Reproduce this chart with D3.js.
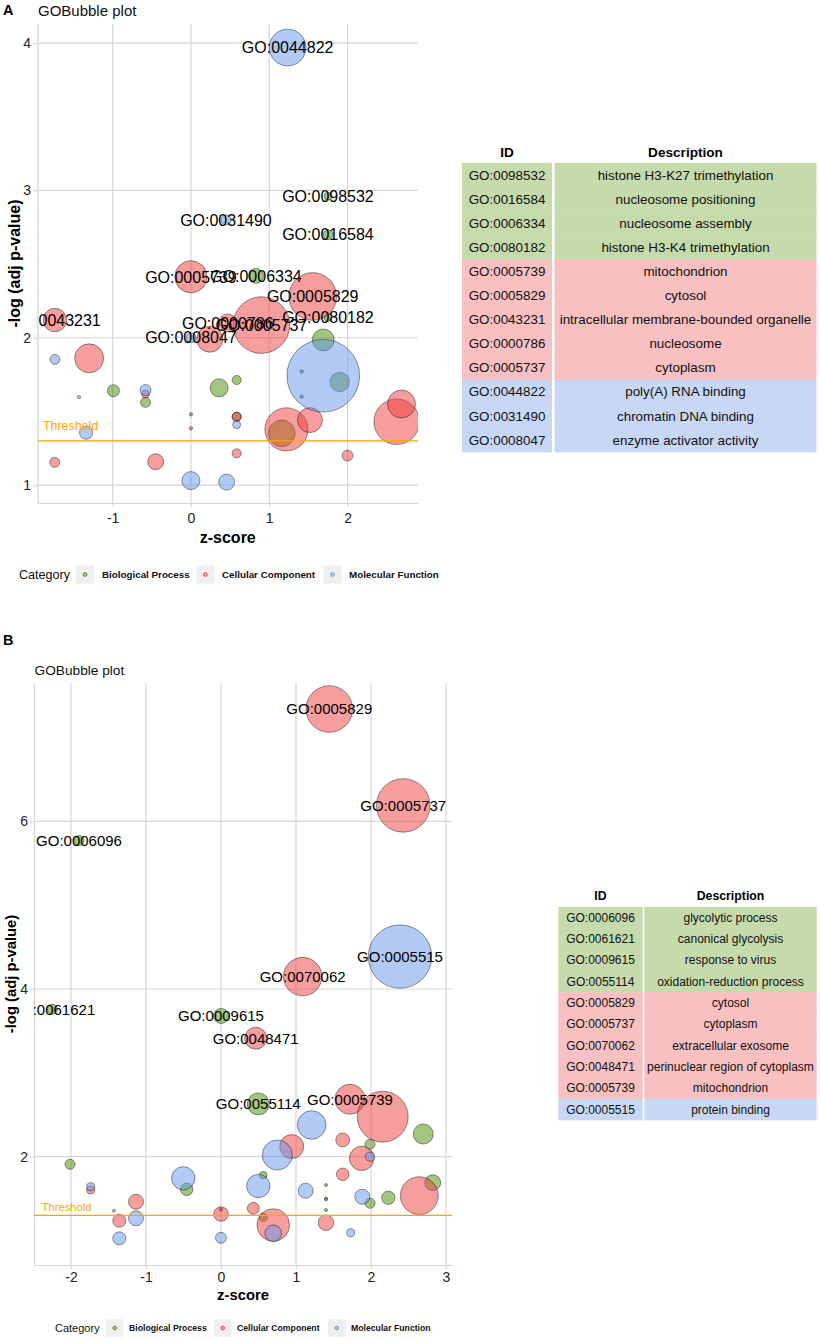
<!DOCTYPE html>
<html><head><meta charset="utf-8">
<script src="https://cdn.jsdelivr.net/npm/d3@7"></script>
<style>body{margin:0;background:#fff}svg{display:block}text{font-family:"Liberation Sans",Arial,sans-serif}</style>
</head><body><svg id="c" width="820" height="1339"></svg>
<script>
// ---------- data ----------
const catCodes = ["BP", "CC", "MF"];
const catNames = ["Biological Process", "Cellular Component", "Molecular Function"];
const threshold = 1.3;

const xTicksA = [-1, 0, 1, 2];
const yTicksA = [1, 2, 3, 4];
const xTicksB = [-2, -1, 0, 1, 2, 3];
const yTicksB = [2, 4, 6];

// [category, z-score, -log(adj p), count, label]
const bubblesA = [
  ["MF", 1.235, 3.97, 26, "GO:0044822"],
  ["BP", 1.75, 2.96, 1.2, "GO:0098532"],
  ["MF", 0.447, 2.80, 1.9, "GO:0031490"],
  ["BP", 1.75, 2.70, 1.9, "GO:0016584"],
  ["CC", 0.0, 2.414, 20, "GO:0005739"],
  ["BP", 0.83, 2.42, 4.3, "GO:0006334"],
  ["CC", 1.555, 2.28, 44, "GO:0005829"],
  ["BP", 1.75, 2.137, 1.2, "GO:0080182"],
  ["CC", 0.90, 2.086, 62, "GO:0005737"],
  ["CC", 0.47, 2.10, 6.3, "GO:0000786"],
  ["MF", 0.0, 2.0, 1.9, "GO:0008047"],
  ["CC", -1.737, 2.12, 10.6, "GO:0043231"],
  ["CC", 0.24, 1.99, 13, ""],
  ["MF", -1.737, 1.853, 1.9, ""],
  ["CC", -1.30, 1.86, 16.2, ""],
  ["BP", -0.99, 1.64, 2.8, ""],
  ["MF", -1.43, 1.597, 0.2, ""],
  ["MF", -0.58, 1.645, 2.3, ""],
  ["CC", -0.58, 1.618, 1.2, ""],
  ["BP", -0.58, 1.561, 1.9, ""],
  ["BP", 0.36, 1.66, 6.3, ""],
  ["BP", 0.584, 1.713, 1.6, ""],
  ["BP", 0.0, 1.48, 0.2, ""],
  ["CC", 0.0, 1.385, 0.2, ""],
  ["BP", 0.584, 1.464, 1.6, ""],
  ["CC", 0.584, 1.464, 1.6, ""],
  ["MF", 0.584, 1.41, 1.2, ""],
  ["MF", -1.34, 1.355, 3.3, ""],
  ["CC", -1.74, 1.154, 1.9, ""],
  ["CC", -0.45, 1.158, 4.9, ""],
  ["MF", 0.0, 1.03, 6.3, ""],
  ["MF", 0.455, 1.02, 4.9, ""],
  ["CC", 0.584, 1.215, 1.6, ""],
  ["CC", 2.0, 1.2, 2.3, ""],
  ["MF", 1.69, 1.742, 102, ""],
  ["BP", 1.69, 1.985, 9.3, ""],
  ["BP", 1.90, 1.70, 7.3, ""],
  ["MF", 1.414, 1.77, 0.2, ""],
  ["MF", 1.414, 1.60, 0.2, ""],
  ["CC", 1.22, 1.378, 36, ""],
  ["BP", 1.16, 1.351, 13.6, ""],
  ["CC", 1.52, 1.441, 12, ""],
  ["CC", 2.627, 1.43, 40, ""],
  ["CC", 2.69, 1.55, 15, ""]
];

const bubblesB = [
  ["CC", 1.444, 7.34, 47, "GO:0005829"],
  ["CC", 2.43, 6.19, 62, "GO:0005737"],
  ["BP", -1.893, 5.77, 2.2, "GO:0006096"],
  ["MF", 2.387, 4.387, 87, "GO:0005515"],
  ["CC", 1.089, 4.148, 32, "GO:0070062"],
  ["BP", -2.249, 3.759, 2.2, "GO:0061621"],
  ["BP", 0.0, 3.679, 4.9, "GO:0009615"],
  ["CC", 0.463, 3.413, 10.5, "GO:0048471"],
  ["BP", 0.497, 2.629, 10.5, "GO:0055114"],
  ["CC", 1.72, 2.685, 19.5, "GO:0005739"],
  ["CC", 2.156, 2.477, 56, ""],
  ["MF", 1.209, 2.378, 17.7, ""],
  ["CC", 0.943, 2.12, 12.5, ""],
  ["MF", 0.751, 2.02, 19.5, ""],
  ["BP", 2.697, 2.27, 8.7, ""],
  ["CC", 1.623, 2.2, 4.2, ""],
  ["BP", 1.987, 2.148, 2.2, ""],
  ["CC", 1.876, 1.98, 12.9, ""],
  ["MF", 1.987, 2.0, 1.9, ""],
  ["BP", 0.564, 1.78, 1.2, ""],
  ["MF", 0.497, 1.65, 11.8, ""],
  ["CC", 1.623, 1.79, 3.4, ""],
  ["MF", 1.129, 1.594, 4.9, ""],
  ["BP", 1.40, 1.662, 0.2, ""],
  ["CC", 1.40, 1.50, 0.2, ""],
  ["MF", 1.40, 1.49, 0.2, ""],
  ["BP", 1.40, 1.364, 0.2, ""],
  ["MF", 1.884, 1.523, 4.9, ""],
  ["BP", 1.987, 1.444, 2.2, ""],
  ["BP", 2.231, 1.51, 3.9, ""],
  ["CC", 2.644, 1.535, 31, ""],
  ["BP", 2.823, 1.69, 5.5, ""],
  ["CC", 0.431, 1.384, 3.1, ""],
  ["CC", 0.697, 1.185, 23, ""],
  ["MF", 0.697, 1.086, 6, ""],
  ["BP", 0.564, 1.277, 1.4, ""],
  ["CC", 1.40, 1.212, 5.3, ""],
  ["MF", 1.729, 1.093, 1.4, ""],
  ["BP", -2.013, 1.909, 2.2, ""],
  ["MF", -1.737, 1.642, 1.4, ""],
  ["CC", -1.737, 1.603, 1.4, ""],
  ["MF", -0.503, 1.742, 11.8, ""],
  ["BP", -0.457, 1.611, 3.4, ""],
  ["CC", -1.133, 1.463, 4.9, ""],
  ["MF", -1.427, 1.356, 0.2, ""],
  ["CC", -1.356, 1.236, 3.7, ""],
  ["MF", -1.133, 1.265, 4.9, ""],
  ["MF", -1.356, 1.026, 3.7, ""],
  ["CC", 0.0, 1.316, 4.6, ""],
  ["CC", 0.0, 1.37, 0.2, ""],
  ["MF", 0.0, 1.033, 2.6, ""]
];

const tableA_id = ["GO:0098532","GO:0016584","GO:0006334","GO:0080182","GO:0005739","GO:0005829","GO:0043231","GO:0000786","GO:0005737","GO:0044822","GO:0031490","GO:0008047"];
const tableA_desc = ["histone H3-K27 trimethylation","nucleosome positioning","nucleosome assembly","histone H3-K4 trimethylation","mitochondrion","cytosol","intracellular membrane-bounded organelle","nucleosome","cytoplasm","poly(A) RNA binding","chromatin DNA binding","enzyme activator activity"];
const tableA_cat = ["BP","BP","BP","BP","CC","CC","CC","CC","CC","MF","MF","MF"];

const tableB_id = ["GO:0006096","GO:0061621","GO:0009615","GO:0055114","GO:0005829","GO:0005737","GO:0070062","GO:0048471","GO:0005739","GO:0005515"];
const tableB_desc = ["glycolytic process","canonical glycolysis","response to virus","oxidation-reduction process","cytosol","cytoplasm","extracellular exosome","perinuclear region of cytoplasm","mitochondrion","protein binding"];
const tableB_cat = ["BP","BP","BP","BP","CC","CC","CC","CC","CC","MF"];

// ---------- styles ----------
const fillCol = {BP: "#458b00", CC: "#ee3b3b", MF: "#6495ed"};
const tableCol = {BP: "#c5dbac", CC: "#f8c0c0", MF: "#c8d8f4"};
const gridCol = "#d6d6d6";
const FONT = '"Liberation Sans", Arial, sans-serif';

const svg = d3.select("#c");
svg.append("rect").attr("width", 820).attr("height", 1339).attr("fill", "#fff");
const defs = svg.append("defs");

function drawPanel(p) {
  const g = svg.append("g");
  const x = d3.scaleLinear().domain(p.xDomain).range(p.xRange);
  const y = d3.scaleLinear().domain(p.yDomain).range(p.yRange);
  const r = d3.scaleSqrt().domain([0, 100]).range([0, p.rMax]);
  const [x0, x1] = p.xRange, [y0, y1] = p.yRange;

  defs.append("clipPath").attr("id", "clip" + p.id)
    .append("rect").attr("x", x0).attr("y", y1).attr("width", x1 - x0).attr("height", y0 - y1);

  // titles
  g.append("text").attr("x", p.letterX).attr("y", p.letterY).attr("font-size", 14.5)
    .attr("font-weight", "bold").text(p.id);
  g.append("text").attr("x", x0 + 0.5).attr("y", p.titleY).attr("font-size", p.titleSize)
    .attr("fill", "#111").text("GOBubble plot");

  // grid
  g.append("g").selectAll("line").data(p.xTicks).join("line")
    .attr("x1", d => x(d)).attr("x2", d => x(d)).attr("y1", y1).attr("y2", y0)
    .attr("stroke", gridCol).attr("stroke-width", 1.2);
  g.append("g").selectAll("line").data(p.yTicks).join("line")
    .attr("x1", x0).attr("x2", x1).attr("y1", d => y(d)).attr("y2", d => y(d))
    .attr("stroke", gridCol).attr("stroke-width", 1.2);

  // axes
  const ax = g.append("g").attr("transform", `translate(0,${y0})`)
    .call(d3.axisBottom(x).tickValues(p.xTicks).tickSize(4).tickSizeOuter(0)
      .tickPadding(p.xPad).tickFormat(d => String(d)));
  const ay = g.append("g").attr("transform", `translate(${x0},0)`)
    .call(d3.axisLeft(y).tickValues(p.yTicks).tickSize(4).tickSizeOuter(0)
      .tickPadding(p.yPad).tickFormat(d => String(d)));
  [ax, ay].forEach(a => {
    a.select(".domain").attr("stroke", gridCol).attr("stroke-width", 1.2);
    a.selectAll(".tick line").attr("stroke", gridCol).attr("stroke-width", 1.2);
    a.selectAll(".tick text").attr("font-size", p.tickSize).attr("fill", "#222")
      .attr("font-family", FONT);
  });

  // axis titles
  g.append("text").attr("x", (x0 + x1) / 2).attr("y", p.xTitleY).attr("text-anchor", "middle")
    .attr("font-size", p.axisTitleSize).attr("font-weight", "bold").text("z-score");
  g.append("text").attr("transform", `translate(${p.yTitleX},${(y0 + y1) / 2}) rotate(-90)`)
    .attr("text-anchor", "middle").attr("font-size", p.axisTitleSize).attr("font-weight", "bold")
    .text("-log (adj p-value)");

  // bubbles (drawn by category: BP, CC, MF)
  const rows = p.data.map((d, i) => ({cat: d[0], z: d[1], v: d[2], n: d[3], label: d[4], i}));
  const ordered = rows.slice().sort((a, b) =>
    catCodes.indexOf(a.cat) - catCodes.indexOf(b.cat) || a.i - b.i);
  const pg = g.append("g").attr("clip-path", `url(#clip${p.id})`);
  pg.selectAll("circle").data(ordered).join("circle")
    .attr("cx", d => x(d.z)).attr("cy", d => y(d.v)).attr("r", d => r(d.n))
    .attr("fill", d => fillCol[d.cat]).attr("fill-opacity", 0.5)
    .attr("stroke", "#000").attr("stroke-opacity", 0.5).attr("stroke-width", 0.8);

  // threshold
  pg.append("line").attr("x1", x0).attr("x2", x1)
    .attr("y1", y(threshold)).attr("y2", y(threshold))
    .attr("stroke", "orange").attr("stroke-width", 1.2);
  pg.append("text").attr("x", x0 + p.thrDx).attr("y", y(threshold + 0.1)).attr("dy", "0.35em")
    .attr("font-size", p.thrSize).attr("fill", "orange").text("Threshold");

  // labels
  pg.append("g").selectAll("text").data(rows.filter(d => d.label)).join("text")
    .attr("x", d => x(d.z)).attr("y", d => y(d.v)).attr("dy", "0.36em")
    .attr("text-anchor", "middle").attr("font-size", p.labelSize).attr("fill", "#000")
    .text(d => d.label);

  // legend
  const lg = g.append("g");
  lg.append("text").attr("x", p.leg.catX).attr("y", p.leg.y).attr("dy", "0.35em")
    .attr("font-size", p.leg.catSize).attr("fill", "#111").text("Category");
  catCodes.forEach((c, k) => {
    const bx = p.leg.boxX[k];
    lg.append("rect").attr("x", bx).attr("y", p.leg.y - p.leg.box / 2)
      .attr("width", p.leg.box).attr("height", p.leg.box).attr("fill", "#efefef");
    lg.append("circle").attr("cx", bx + p.leg.box / 2).attr("cy", p.leg.y).attr("r", 1.8)
      .attr("fill", fillCol[c]).attr("fill-opacity", 0.35).attr("stroke", fillCol[c]).attr("stroke-width", 1);
    lg.append("text").attr("x", p.leg.textX[k]).attr("y", p.leg.y).attr("dy", "0.35em")
      .attr("font-size", p.leg.textSize).attr("font-weight", "bold").attr("fill", "#111")
      .text(catNames[k]);
  });
}

function drawTable(t) {
  const g = svg.append("g");
  const rows = t.ids.map((id, i) => ({id, desc: t.desc[i], cat: t.cat[i], i}));
  const yRow = d3.scaleBand().domain(d3.range(rows.length)).range([t.top, t.bottom]);
  g.append("text").attr("x", (t.c0 + t.c1) / 2).attr("y", t.headY).attr("dy", "0.35em")
    .attr("text-anchor", "middle").attr("font-size", t.headSize).attr("font-weight", "bold").text("ID");
  g.append("text").attr("x", (t.c2 + t.c3) / 2).attr("y", t.headY).attr("dy", "0.35em")
    .attr("text-anchor", "middle").attr("font-size", t.headSize).attr("font-weight", "bold").text("Description");
  const rg = g.selectAll("g.row").data(rows).join("g").attr("class", "row");
  rg.append("rect").attr("x", t.c0).attr("y", d => yRow(d.i)).attr("width", t.c1 - t.c0)
    .attr("height", yRow.bandwidth() + 0.4).attr("fill", d => tableCol[d.cat]);
  rg.append("rect").attr("x", t.c2).attr("y", d => yRow(d.i)).attr("width", t.c3 - t.c2)
    .attr("height", yRow.bandwidth() + 0.4).attr("fill", d => tableCol[d.cat]);
  rg.append("text").attr("x", (t.c0 + t.c1) / 2).attr("y", d => yRow(d.i) + yRow.bandwidth() / 2)
    .attr("dy", "0.35em").attr("text-anchor", "middle").attr("font-size", t.size).attr("fill", "#111").text(d => d.id);
  rg.append("text").attr("x", (t.c2 + t.c3) / 2).attr("y", d => yRow(d.i) + yRow.bandwidth() / 2)
    .attr("dy", "0.35em").attr("text-anchor", "middle").attr("font-size", t.size).attr("fill", "#111").text(d => d.desc);
}

drawPanel({
  id: "A", data: bubblesA, xTicks: xTicksA, yTicks: yTicksA,
  xDomain: [-1.96, 2.90], xRange: [37.5, 418],
  yDomain: [0.878, 4.13], yRange: [503, 24],
  rMax: 36, letterX: 3, letterY: 15, titleY: 16, titleSize: 15,
  xPad: 6, yPad: 2.5, tickSize: 14, axisTitleSize: 16,
  xTitleY: 542.5, yTitleX: 19.5, labelSize: 16, thrDx: 5.5, thrSize: 12.4,
  leg: {y: 574.5, catX: 19, catSize: 12.6, box: 18, boxX: [76, 196.5, 323.5],
        textX: [102, 222, 349], textSize: 9.8}
});

drawPanel({
  id: "B", data: bubblesB, xTicks: xTicksB, yTicks: yTicksB,
  xDomain: [-2.493, 3.08], xRange: [34, 452],
  yDomain: [0.708, 7.65], yRange: [1265, 683],
  rMax: 34, letterX: 3, letterY: 645, titleY: 675, titleSize: 13.7,
  xPad: 3, yPad: 2, tickSize: 14, axisTitleSize: 14.8,
  xTitleY: 1299.5, yTitleX: 15.5, labelSize: 15, thrDx: 7.7, thrSize: 11.2,
  leg: {y: 1328, catX: 55, catSize: 11, box: 17.5, boxX: [106, 214, 328],
        textX: [129, 237, 351], textSize: 8.7}
});

drawTable({ids: tableA_id, desc: tableA_desc, cat: tableA_cat,
  c0: 462, c1: 552, c2: 554.5, c3: 816.5, top: 163, bottom: 452, headY: 152.5,
  headSize: 13.6, size: 13.4});
drawTable({ids: tableB_id, desc: tableB_desc, cat: tableB_cat,
  c0: 558.3, c1: 642.7, c2: 644.3, c3: 816.7, top: 907, bottom: 1120, headY: 896,
  headSize: 12.3, size: 12});
</script></body></html>
